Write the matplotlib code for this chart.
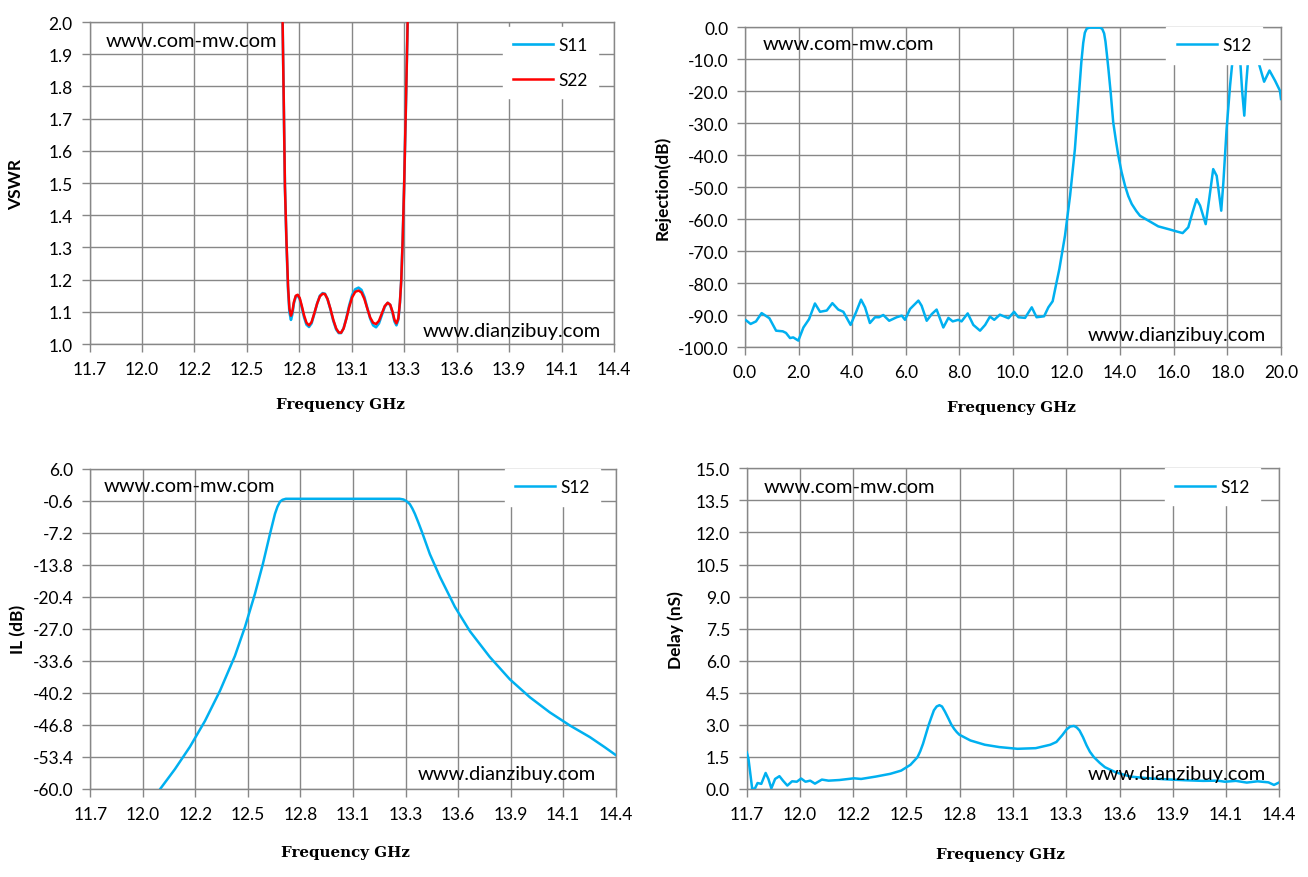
import numpy as np
import matplotlib
matplotlib.use("Agg")
import matplotlib.pyplot as plt

# ---- VSWR (top left) ----
vswr_freq = [12.680, 12.694, 12.700, 12.706, 12.714, 12.722, 12.729, 12.737, 12.744, 12.752,
             12.762, 12.772, 12.782, 12.793, 12.805, 12.817, 12.830, 12.843, 12.857, 12.872,
             12.886, 12.900, 12.912, 12.925, 12.940, 12.955, 12.970, 12.983, 12.995, 13.008,
             13.022, 13.037, 13.052, 13.068, 13.085, 13.100, 13.115, 13.130, 13.145, 13.160,
             13.175, 13.190, 13.205, 13.220, 13.235, 13.248, 13.260, 13.270, 13.280, 13.290,
             13.298, 13.305, 13.312, 13.320, 13.328, 13.336, 13.344, 13.350]
s22_vswr = [2.60, 2.00, 1.75, 1.49, 1.32, 1.18, 1.11, 1.088, 1.100, 1.130,
            1.150, 1.153, 1.143, 1.118, 1.088, 1.066, 1.058, 1.068, 1.095, 1.126,
            1.148, 1.156, 1.155, 1.140, 1.110, 1.075, 1.048, 1.036, 1.035, 1.048,
            1.078, 1.115, 1.145, 1.162, 1.166, 1.160, 1.140, 1.110, 1.082, 1.066,
            1.062, 1.072, 1.095, 1.118, 1.128, 1.122, 1.100, 1.075, 1.064, 1.080,
            1.130, 1.200, 1.320, 1.500, 1.720, 1.950, 2.200, 2.500]
s11_vswr = [2.60, 2.00, 1.75, 1.49, 1.31, 1.17, 1.10, 1.075, 1.092, 1.126,
            1.148, 1.150, 1.140, 1.113, 1.082, 1.060, 1.053, 1.064, 1.093, 1.126,
            1.150, 1.158, 1.156, 1.140, 1.108, 1.072, 1.045, 1.034, 1.034, 1.049,
            1.080, 1.120, 1.152, 1.170, 1.175, 1.168, 1.146, 1.112, 1.079, 1.058,
            1.052, 1.064, 1.090, 1.116, 1.128, 1.121, 1.097, 1.070, 1.058, 1.076,
            1.128, 1.200, 1.320, 1.500, 1.720, 1.950, 2.200, 2.500]

# ---- Rejection (top right) ----
rej_freq = [0.03, 0.21, 0.41, 0.62, 0.91, 1.16, 1.41, 1.53, 1.68, 1.80,
            1.99, 2.18, 2.39, 2.61, 2.80, 3.05, 3.26, 3.48, 3.67, 3.94,
            4.14, 4.33, 4.48, 4.66, 4.85, 5.00, 5.16, 5.38, 5.66, 5.85,
            5.97, 6.16, 6.47, 6.59, 6.78, 6.97, 7.15, 7.40, 7.59, 7.75,
            7.96, 8.08, 8.31, 8.52, 8.77, 8.96, 9.14, 9.30, 9.51, 9.83,
            10.04, 10.20, 10.45, 10.70, 10.88, 11.16, 11.32, 11.48, 11.60, 11.73,
            11.94, 12.13, 12.31, 12.47, 12.55, 12.62, 12.68, 12.75, 12.85, 12.94,
            13.10, 13.25, 13.33, 13.40, 13.45, 13.50, 13.56, 13.65, 13.74, 13.84,
            13.93, 14.05, 14.18, 14.30, 14.43, 14.60, 14.74, 15.05, 15.42, 15.86,
            16.11, 16.33, 16.54, 16.70, 16.85, 16.98, 17.19, 17.32, 17.47, 17.60,
            17.77, 17.85, 17.97, 18.10, 18.22, 18.32, 18.40, 18.47, 18.55, 18.63,
            18.70, 18.78, 18.88, 19.00, 19.16, 19.37, 19.57, 19.78, 19.96, 20.00]
rej_db = [-91.6, -92.8, -92.0, -89.4, -91.0, -94.9, -95.1, -95.6, -97.2, -97.0,
          -98.0, -93.9, -91.3, -86.4, -89.0, -88.6, -86.3, -88.3, -89.0, -93.1,
          -89.2, -85.2, -87.6, -92.5, -90.7, -90.7, -90.0, -91.8, -90.7, -90.2,
          -91.5, -88.1, -85.5, -87.1, -91.8, -89.7, -88.3, -93.9, -90.9, -92.0,
          -91.5, -92.0, -89.5, -93.1, -94.9, -93.1, -90.5, -91.5, -89.9, -91.0,
          -89.0, -90.7, -90.9, -87.6, -90.7, -90.4, -87.6, -85.7, -80.8, -75.6,
          -65.2, -52.7, -38.1, -20.0, -11.0, -5.0, -1.8, -0.5, -0.2, -0.2,
          -0.2, -0.2, -0.6, -2.0, -4.5, -8.3, -13.1, -21.0, -29.8, -35.5,
          -40.2, -45.3, -49.6, -52.8, -55.3, -57.5, -59.0, -60.5, -62.3, -63.3,
          -63.9, -64.4, -62.6, -57.9, -53.8, -55.8, -61.6, -53.8, -44.4, -46.5,
          -57.4, -48.5, -31.9, -18.3, -7.9, -3.0, -4.0, -9.5, -20.0, -27.7,
          -18.0, -9.5, -4.0, -5.0, -11.0, -17.1, -13.6, -16.8, -19.9, -22.5]

# ---- Insertion loss (bottom left) ----
il_freq = [12.02, 12.059, 12.135, 12.212, 12.289, 12.366, 12.443, 12.495, 12.546, 12.587,
           12.623, 12.649, 12.662, 12.675, 12.688, 12.705, 12.800, 12.900, 13.000, 13.100,
           13.200, 13.290, 13.310, 13.325, 13.342, 13.355, 13.368, 13.386, 13.404, 13.445,
           13.497, 13.574, 13.651, 13.753, 13.856, 13.959, 14.061, 14.164, 14.267, 14.344,
           14.400]
il_db = [-63.0, -60.0, -55.9, -51.3, -46.0, -39.8, -32.6, -26.6, -19.8, -13.6,
         -7.5, -3.3, -1.8, -0.8, -0.4, -0.2, -0.2, -0.2, -0.2, -0.2,
         -0.2, -0.2, -0.35, -0.7, -1.3, -2.2, -3.3, -5.1, -7.0, -11.6,
         -16.3, -22.5, -27.5, -32.8, -37.4, -41.1, -44.2, -46.9, -49.3, -51.4,
         -53.0]

# ---- Group delay (bottom right) ----
dly_freq = [11.700, 11.709, 11.728, 11.742, 11.755, 11.774, 11.796, 11.810, 11.825, 11.844,
            11.866, 11.884, 11.906, 11.930, 11.954, 11.976, 11.998, 12.022, 12.046, 12.081,
            12.115, 12.170, 12.244, 12.280, 12.354, 12.428, 12.483, 12.530, 12.566, 12.580,
            12.594, 12.608, 12.622, 12.636, 12.649, 12.663, 12.677, 12.690, 12.705, 12.723,
            12.737, 12.751, 12.765, 12.778, 12.834, 12.907, 12.981, 13.073, 13.165, 13.239,
            13.270, 13.300, 13.322, 13.340, 13.359, 13.373, 13.387, 13.405, 13.423, 13.440,
            13.460, 13.490, 13.516, 13.571, 13.645, 13.737, 13.829, 13.921, 14.013, 14.087,
            14.124, 14.180, 14.235, 14.290, 14.345, 14.373, 14.400]
dly_ns = [1.72, 1.41, 0.00, 0.03, 0.28, 0.24, 0.75, 0.47, 0.03, 0.47,
          0.60, 0.39, 0.16, 0.36, 0.34, 0.49, 0.34, 0.39, 0.25, 0.44,
          0.39, 0.42, 0.50, 0.47, 0.58, 0.71, 0.86, 1.13, 1.49, 1.77,
          2.12, 2.55, 2.98, 3.35, 3.68, 3.86, 3.92, 3.86, 3.62, 3.29,
          3.02, 2.82, 2.66, 2.54, 2.27, 2.07, 1.96, 1.88, 1.91, 2.07,
          2.20, 2.52, 2.79, 2.92, 2.95, 2.88, 2.74, 2.42, 2.04, 1.74,
          1.49, 1.22, 1.02, 0.78, 0.58, 0.50, 0.45, 0.41, 0.38, 0.39,
          0.34, 0.38, 0.30, 0.36, 0.31, 0.19, 0.31]

ghz_ticklabels = ["11.7", "12.0", "12.2", "12.5", "12.8", "13.1",
                  "13.3", "13.6", "13.9", "14.1", "14.4"]

BLUE = "#00B0F0"
RED = "#FF0000"
GRID = "#878787"
FONT = "Lato"
FS = 12.5

fig = plt.figure(figsize=(13.08, 8.78), dpi=100)
fig.patch.set_facecolor("white")


def style_axes(ax):
    ax.grid(True, color=GRID, lw=1.0)
    ax.set_axisbelow(True)
    for sp in ax.spines.values():
        sp.set_color(GRID)
        sp.set_linewidth(1.0)
    ax.tick_params(direction="out", length=6, width=1, color=GRID,
                   labelsize=FS, pad=6)
    for lab in ax.get_xticklabels() + ax.get_yticklabels():
        lab.set_fontfamily(FONT)


def ghz_axis(ax):
    ax.set_xlim(11.7, 14.4)
    ax.set_xticks(np.linspace(11.7, 14.4, 11))
    ax.set_xticklabels(ghz_ticklabels)


def xlabel(ax, x, y):
    ax.set_xlabel("Frequency GHz", family="DejaVu Serif", weight="bold",
                  fontsize=10.8, va="center")
    ax.xaxis.set_label_coords(x, y)


def ylabel(ax, text, x):
    ax.set_ylabel(text, family=FONT, weight="bold", fontsize=FS, va="center")
    ax.yaxis.set_label_coords(x, 0.5)


def legend(ax, anchor, spacing=1.07):
    leg = ax.legend(loc="upper right", bbox_to_anchor=anchor, borderaxespad=0,
                    frameon=True, fancybox=False, facecolor="white",
                    edgecolor="white", framealpha=1, borderpad=0.6,
                    handlelength=2.3, handletextpad=0.3, labelspacing=spacing,
                    prop={"family": FONT, "size": FS})
    leg.set_zorder(6)


def marks(ax, p1, p2):
    ax.text(p1[0], p1[1], "www.com-mw.com", transform=ax.transAxes,
            family=FONT, fontsize=14.5, ha="left", va="baseline", zorder=7)
    ax.text(p2[0], p2[1], "www.dianzibuy.com", transform=ax.transAxes,
            family=FONT, fontsize=14.5, ha="left", va="baseline", zorder=7)


# top left: VSWR
ax1 = fig.add_axes([0.06843, 0.60706, 0.40099, 0.36674])
ax1.plot(vswr_freq, s11_vswr, color=BLUE, lw=1.9, label="S11", zorder=3)
ax1.plot(vswr_freq, s22_vswr, color=RED, lw=1.8, label="S22", zorder=4)
ghz_axis(ax1)
ax1.set_ylim(1.0, 2.0)
ax1.set_yticks(np.linspace(1.0, 2.0, 11))
ax1.set_yticklabels([f"{v:.1f}" for v in np.linspace(1.0, 2.0, 11)])
style_axes(ax1)
xlabel(ax1, 0.4776, -0.186)
ylabel(ax1, "VSWR", -0.140)
legend(ax1, (0.970, 0.985))
marks(ax1, (0.0315, 0.9255), (0.636, 0.0248))

# top right: rejection
ax2 = fig.add_axes([0.56957, 0.60364, 0.40979, 0.36446])
ax2.plot(rej_freq, rej_db, color=BLUE, lw=1.8, label="S12", zorder=3)
ax2.set_xlim(0, 20)
ax2.set_xticks(np.arange(0, 21, 2))
ax2.set_xticklabels([f"{v:.1f}" for v in np.arange(0, 21, 2)])
ax2.set_ylim(-100, 0)
ax2.set_yticks(np.arange(-100, 1, 10))
ax2.set_yticklabels([f"{v:.1f}" for v in np.arange(-100, 1, 10)])
style_axes(ax2)
xlabel(ax2, 0.498, -0.1875)
ylabel(ax2, "Rejection(dB)", -0.155)
legend(ax2, (0.964, 1.0))
marks(ax2, (0.0336, 0.931), (0.640, 0.022))

# bottom left: insertion loss
ax3 = fig.add_axes([0.06904, 0.10023, 0.40168, 0.36481])
ax3.plot(il_freq, il_db, color=BLUE, lw=1.8, label="S12", zorder=3)
ghz_axis(ax3)
il_ticks = np.linspace(-60, 6, 11)
ax3.set_ylim(-60, 6)
ax3.set_yticks(il_ticks)
ax3.set_yticklabels([f"{v:.1f}" for v in il_ticks])
style_axes(ax3)
xlabel(ax3, 0.4848, -0.1967)
ylabel(ax3, "IL (dB)", -0.1376)
legend(ax3, (0.970, 1.0))
marks(ax3, (0.026, 0.930), (0.6237, 0.031))

# bottom right: group delay
ax4 = fig.add_axes([0.57087, 0.10023, 0.40719, 0.36526])
ax4.plot(dly_freq, dly_ns, color=BLUE, lw=1.8, label="S12", zorder=3)
ghz_axis(ax4)
dly_ticks = np.linspace(0, 15, 11)
ax4.set_ylim(0, 15)
ax4.set_yticks(dly_ticks)
ax4.set_yticklabels([f"{v:.1f}" for v in dly_ticks])
style_axes(ax4)
xlabel(ax4, 0.4756, -0.2027)
ylabel(ax4, "Delay (nS)", -0.1327)
legend(ax4, (0.964, 1.0))
marks(ax4, (0.0325, 0.926), (0.641, 0.031))

fig.savefig("out.png", dpi=100, facecolor="white")
